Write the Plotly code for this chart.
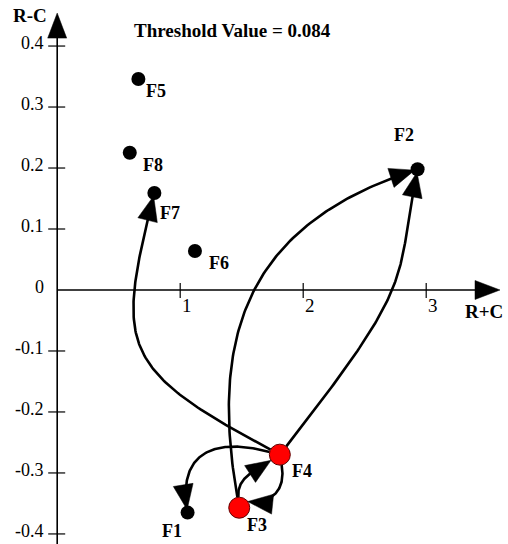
import numpy as np
import plotly.graph_objects as go

# ---------------- data ----------------
factors = ["F1", "F2", "F3", "F4", "F5", "F6", "F7", "F8"]
r_plus_c = [1.06, 2.93, 1.48, 1.81, 0.66, 1.12, 0.79, 0.59]
r_minus_c = [-0.365, 0.198, -0.357, -0.270, 0.346, 0.064, 0.159, 0.225]
key_factors = ["F3", "F4"]          # drawn as red nodes
threshold_value = 0.084

x_tick_values = [1, 2, 3]
x_tick_labels = ["1", "2", "3"]
y_tick_values = [0.4, 0.3, 0.2, 0.1, 0.0, -0.1, -0.2, -0.3, -0.4]
y_tick_labels = ["0.4", "0.3", "0.2", "0.1", "0", "-0.1", "-0.2", "-0.3", "-0.4"]

# influence relations above the threshold (cause -> effect)
relation_from = ["F4", "F3", "F4", "F4", "F3", "F4"]
relation_to = ["F7", "F2", "F2", "F1", "F4", "F3"]

# ---------------- styling ----------------
W, H = 508, 544
X_RANGE = (-0.465, 3.665)
Y_RANGE = (-0.4165, 0.4755)
X_AXIS_END = 3.6
Y_AXIS_END = 0.454
FONT = "Liberation Serif, Times New Roman, serif"
INK = "black"

DOT_SIZE = 14
KEY_DOT_SIZE = 21
HEAD_LEN, HEAD_WID = 25, 20
CURVE_WIDTH = 2.6

# connector shape: departure / arrival direction (deg, counter-clockwise),
# handle lengths as fractions of the chord, optional arrival port angle
connector_style = {
    ("F4", "F7"): dict(depart=152, arrive=76, k=(0.62, 0.55)),
    ("F3", "F2"): dict(depart=100, arrive=18, k=(0.47, 0.45)),
    ("F4", "F2"): dict(depart=52, arrive=79, k=(0.7, 0.38)),
    ("F4", "F1"): dict(depart=165, arrive=279, k=(0.6, 0.55)),
    ("F3", "F4"): dict(depart=95, arrive=33, k=(0.4, 0.4)),
    ("F4", "F3"): dict(depart=280, arrive=174, k=(0.5, 0.5), port_in=36),
}

# label placement relative to each node, in pixels (right, down)
label_offset = {
    "F1": (-16, 18), "F2": (-14, -34), "F3": (18, 17), "F4": (22, 16),
    "F5": (18, 12), "F6": (24, 12), "F7": (16, 20), "F8": (23, 12),
}

# ---------------- pixel <-> data helpers ----------------
SX = W / (X_RANGE[1] - X_RANGE[0])
SY = H / (Y_RANGE[1] - Y_RANGE[0])


def to_px(x, y):
    return np.array([(x - X_RANGE[0]) * SX, (Y_RANGE[1] - y) * SY])


def to_data(p):
    p = np.atleast_2d(p)
    return p[:, 0] / SX + X_RANGE[0], Y_RANGE[1] - p[:, 1] / SY


def unit(deg):
    a = np.radians(deg)
    return np.array([np.cos(a), -np.sin(a)])  # screen coordinates (y down)


pos = {f: to_px(x, y) for f, x, y in zip(factors, r_plus_c, r_minus_c)}
attach = {f: (KEY_DOT_SIZE / 2 if f in key_factors else 3) for f in factors}

fig = go.Figure()


def add_poly(pts, fill=False, width=1.0):
    xs, ys = to_data(np.array(pts))
    if fill:
        fig.add_trace(go.Scatter(x=xs, y=ys, mode="lines", fill="toself",
                                 fillcolor=INK, line=dict(color=INK, width=0.5),
                                 hoverinfo="skip", showlegend=False))
    else:
        fig.add_trace(go.Scatter(x=xs, y=ys, mode="lines",
                                 line=dict(color=INK, width=width),
                                 hoverinfo="skip", showlegend=False))


def arrow_head(tip, direction, length=HEAD_LEN, width=HEAD_WID):
    d = direction / np.linalg.norm(direction)
    n = np.array([-d[1], d[0]])
    base = tip - length * d
    add_poly([tip, base + n * width / 2, base - n * width / 2, tip], fill=True)


# ---------------- coordinate axes ----------------
origin = to_px(0, 0)
x_tip = to_px(X_AXIS_END, 0)
y_tip = to_px(0, Y_AXIS_END)
y_bottom = to_px(0, Y_RANGE[0])
add_poly([origin, x_tip - np.array([HEAD_LEN * 0.6, 0])], width=1.6)
add_poly([y_bottom, y_tip + np.array([0, HEAD_LEN * 0.6])], width=1.6)
arrow_head(x_tip, np.array([1.0, 0.0]), 25, 19)
arrow_head(y_tip, np.array([0.0, -1.0]), 25, 19)

# tick marks
tx, ty = [], []
for v in x_tick_values:
    p = to_px(v, 0)
    for q in (p + [0, -7], p + [0, 8]):
        xx, yy = to_data(q)
        tx.append(xx[0]); ty.append(yy[0])
    tx.append(None); ty.append(None)
for v in y_tick_values:
    if v == 0:
        continue
    p = to_px(0, v)
    for q in (p + [-9, 0], p + [8, 0]):
        xx, yy = to_data(q)
        tx.append(xx[0]); ty.append(yy[0])
    tx.append(None); ty.append(None)
fig.add_trace(go.Scatter(x=tx, y=ty, mode="lines", line=dict(color=INK, width=1.2),
                         hoverinfo="skip", showlegend=False))

# ---------------- influence connectors ----------------
t = np.linspace(0, 1, 120)[:, None]
for a, b in zip(relation_from, relation_to):
    st = connector_style[(a, b)]
    u_out, u_in = unit(st["depart"]), unit(st["arrive"])
    p0 = pos[a] + attach[a] * unit(st.get("port_out", st["depart"]))
    tip = pos[b] + attach[b] * unit(st.get("port_in", st["arrive"] + 180))
    chord = np.linalg.norm(tip - p0)
    c1 = p0 + st["k"][0] * chord * u_out
    c2 = tip - st["k"][1] * chord * u_in
    curve = ((1 - t) ** 3) * p0 + 3 * ((1 - t) ** 2) * t * c1 \
        + 3 * (1 - t) * t ** 2 * c2 + t ** 3 * tip
    keep = np.linalg.norm(curve - tip, axis=1) > HEAD_LEN * 0.6
    add_poly(curve[keep], width=CURVE_WIDTH)
    arrow_head(tip, u_in)

# ---------------- factor nodes ----------------
is_key = [f in key_factors for f in factors]
fig.add_trace(go.Scatter(
    x=[x for x, k in zip(r_plus_c, is_key) if not k],
    y=[y for y, k in zip(r_minus_c, is_key) if not k],
    mode="markers", marker=dict(size=DOT_SIZE, color=INK, line=dict(width=0)),
    hoverinfo="skip", showlegend=False))
fig.add_trace(go.Scatter(
    x=[x for x, k in zip(r_plus_c, is_key) if k],
    y=[y for y, k in zip(r_minus_c, is_key) if k],
    mode="markers", marker=dict(size=KEY_DOT_SIZE, color="#ff0000",
                                line=dict(width=1, color="#600000")),
    hoverinfo="skip", showlegend=False))

annotations = []
for f, x, y in zip(factors, r_plus_c, r_minus_c):
    dx, dy = label_offset[f]
    annotations.append(dict(x=x, y=y, text=f, showarrow=False, xshift=dx, yshift=-dy,
                            xanchor="center", yanchor="middle",
                            font=dict(family=FONT, size=18, color=INK, weight="bold")))

# tick labels
for v, lab in zip(x_tick_values, x_tick_labels):
    annotations.append(dict(x=v, y=0, text=lab, showarrow=False, xanchor="left",
                            yanchor="top", xshift=0, yshift=-3,
                            font=dict(family=FONT, size=19, color=INK)))
for v, lab in zip(y_tick_values, y_tick_labels):
    annotations.append(dict(x=0, y=v, text=lab, showarrow=False, xanchor="right",
                            yanchor="middle", xshift=-11, yshift=3,
                            font=dict(family=FONT, size=18, color=INK)))

# axis names
annotations.append(dict(x=0, y=Y_AXIS_END, text="R-C", showarrow=False,
                        xanchor="right", yanchor="middle", xshift=-8, yshift=-2,
                        font=dict(family=FONT, size=19, color=INK, weight="bold")))
annotations.append(dict(x=X_AXIS_END, y=0, text="R+C", showarrow=False,
                        xanchor="center", yanchor="top", xshift=-16, yshift=-9,
                        font=dict(family=FONT, size=19, color=INK, weight="bold")))

fig.update_layout(
    width=W, height=H,
    margin=dict(l=0, r=0, t=0, b=0),
    paper_bgcolor="white", plot_bgcolor="white",
    xaxis=dict(range=list(X_RANGE), visible=False, fixedrange=True),
    yaxis=dict(range=list(Y_RANGE), visible=False, fixedrange=True),
    title=dict(text=f"Threshold Value = {threshold_value:.3f}", x=0.457, y=0.945,
               xanchor="center", yanchor="middle",
               font=dict(family=FONT, size=19, color=INK, weight="bold")),
    annotations=annotations,
    showlegend=False,
)

fig.write_html("out.html")
